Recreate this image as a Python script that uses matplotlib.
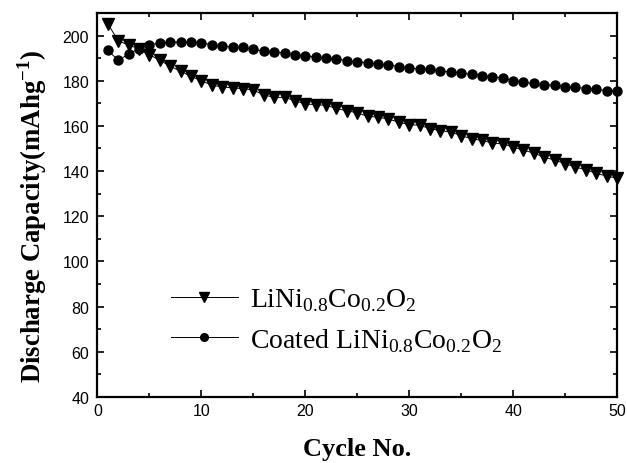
import numpy as np
import matplotlib
matplotlib.use("Agg")
import matplotlib.pyplot as plt
from matplotlib.ticker import MultipleLocator

plt.rcParams['mathtext.fontset'] = 'custom'
plt.rcParams['mathtext.rm'] = 'Liberation Serif'
plt.rcParams['mathtext.bf'] = 'Liberation Serif:bold'

# cycle number
cycles = np.arange(1, 51)

# LiNi0.8Co0.2O2 discharge capacity (mAh/g)
pristine = [205.1, 197.7, 195.7, 194.2, 191.5, 189.0, 186.4, 184.2, 181.9, 180.0,
            178.0, 177.3, 176.8, 176.5, 175.8, 173.8, 172.6, 172.6, 171.2, 169.7,
            169.4, 169.1, 167.7, 166.7, 165.8, 164.2, 163.9, 163.0, 161.7, 160.5,
            160.3, 158.8, 157.9, 157.3, 155.7, 154.3, 153.6, 152.4, 152.1, 150.7,
            149.2, 148.0, 146.1, 144.9, 143.3, 141.8, 140.6, 139.0, 137.8, 136.9]

# coated LiNi0.8Co0.2O2
coated = [193.4, 189.0, 191.8, 194.2, 195.7, 196.8, 197.0, 197.1, 197.0, 196.8,
          195.9, 195.5, 194.8, 194.8, 194.0, 193.0, 192.6, 192.3, 191.5, 191.1,
          190.5, 190.0, 189.6, 188.9, 188.3, 188.0, 187.4, 187.1, 186.2, 185.6,
          185.3, 185.0, 184.4, 183.8, 183.5, 182.8, 182.2, 181.8, 181.2, 180.0,
          179.3, 178.8, 178.2, 178.0, 177.3, 177.1, 176.5, 176.2, 175.6, 175.4]

labels = [r'LiNi$_{\mathrm{0.8}}$Co$_{\mathrm{0.2}}$O$_{\mathrm{2}}$',
          r'Coated LiNi$_{\mathrm{0.8}}$Co$_{\mathrm{0.2}}$O$_{\mathrm{2}}$']

fig = plt.figure(figsize=(6.27, 4.64), dpi=100)
ax = fig.add_axes([0.1555, 0.1422, 0.8285, 0.8278])

ax.plot(cycles, pristine, '-', color='black', lw=0.7, marker='v', ms=8,
        label=labels[0], clip_on=False)
ax.plot(cycles, coated, '-', color='black', lw=0.7, marker='o', ms=6.5,
        label=labels[1], clip_on=False)

ax.set_xlim(0, 50)
ax.set_ylim(40, 210)
ax.xaxis.set_major_locator(MultipleLocator(10))
ax.xaxis.set_minor_locator(MultipleLocator(5))
ax.yaxis.set_major_locator(MultipleLocator(20))
ax.yaxis.set_minor_locator(MultipleLocator(10))
ax.set_yticks(np.arange(40, 201, 20))
ax.tick_params(which='both', direction='in', top=True, right=True,
               labelsize=11.5, width=1.2)
ax.tick_params(axis='y', pad=6)
ax.tick_params(axis='x', pad=4)
ax.tick_params(which='major', length=5)
ax.tick_params(which='minor', length=3)
for lab in ax.get_xticklabels() + ax.get_yticklabels():
    lab.set_family('Liberation Sans')
for sp in ax.spines.values():
    sp.set_linewidth(1.6)

ax.set_xlabel('Cycle No.', family='Liberation Serif', weight='bold',
              fontsize=19, labelpad=14)
ax.set_ylabel(r'Discharge Capacity(mAhg$^{\mathbf{-1}}$)', family='Liberation Serif',
              weight='bold', fontsize=19.3)
ax.yaxis.set_label_coords(-0.094, 0.474)

leg = ax.legend(loc='lower left', bbox_to_anchor=(0.12, 0.084), frameon=False,
                prop={'family': 'Liberation Serif', 'size': 20},
                handlelength=2.4, handletextpad=0.45, labelspacing=0.45,
                borderaxespad=0, markerscale=0.85)

fig.savefig('out.png', dpi=100)
